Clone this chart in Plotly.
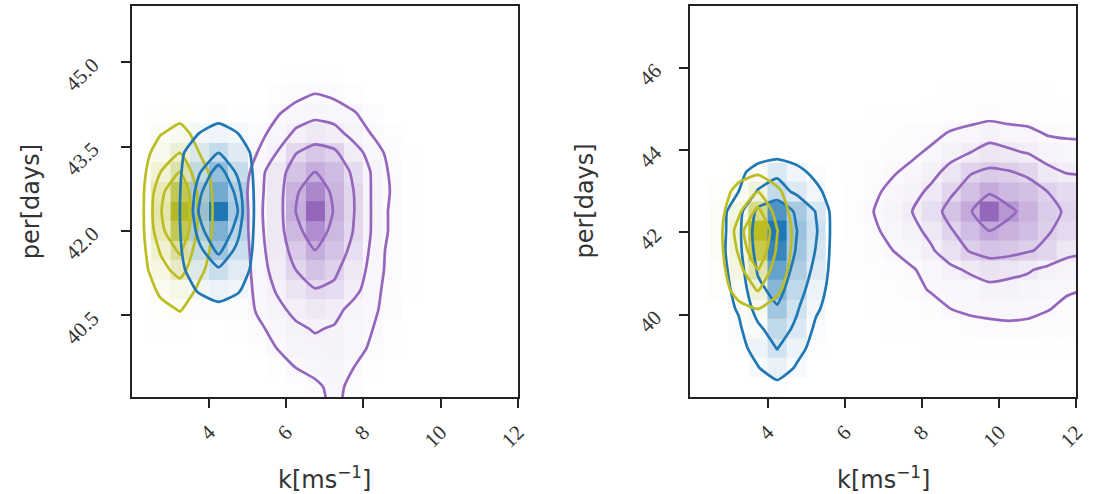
import plotly.graph_objects as go

# ---------------- data (2D histogram bin values) ----------------
# Left panel
K_LY = [2.25, 2.75, 3.25, 3.75, 4.25]
PER_LY = [44.44, 44.09, 43.74, 43.39, 43.05, 42.70, 42.35, 42.00, 41.66, 41.31, 40.96, 40.61, 40.27, 39.92]
Z_LY = [
    [0, 0, 0, 0, 0],
    [0, .03, .05, .02, 0],
    [0, .09, .15, .05, 0],
    [.01, .20, .35, .10, 0],
    [.02, .35, .60, .18, .01],
    [.03, .52, .90, .27, .01],
    [.03, .58, 1.0, .30, .01],
    [.03, .52, .90, .27, .01],
    [.02, .38, .65, .20, .01],
    [.01, .26, .45, .14, 0],
    [.01, .13, .22, .07, 0],
    [0, .06, .11, .03, 0],
    [0, .02, .03, .01, 0],
    [0, 0, 0, 0, 0],
]
LEV_LY = [0.1, 0.35, 0.6]

K_LB = [2.75, 3.25, 3.75, 4.25, 4.75, 5.25]
PER_LB = [44.44, 44.09, 43.74, 43.39, 43.05, 42.70, 42.35, 42.00, 41.66, 41.31, 40.96, 40.61, 40.27]
Z_LB = [
    [0, 0, 0, 0, 0, 0],
    [0, 0, .02, .04, .02, 0],
    [0, .02, .10, .16, .10, 0],
    [0, .05, .28, .45, .27, 0],
    [0, .07, .43, .69, .41, 0],
    [0, .09, .56, .82, .54, 0],
    [0, .10, .62, 1.0, .60, 0],
    [0, .09, .53, .80, .51, 0],
    [0, .07, .40, .65, .39, 0],
    [0, .04, .26, .42, .25, 0],
    [0, .02, .12, .20, .12, 0],
    [0, 0, .02, .04, .02, 0],
    [0, 0, 0, 0, 0, 0],
]
LEV_LB = [0.1, 0.45, 0.6]

K_LP = [4.25, 4.75, 5.25, 5.75, 6.25, 6.75, 7.25, 7.75, 8.25, 8.75, 9.25, 9.75]
PER_LP = [45.13, 44.78, 44.44, 44.09, 43.74, 43.39, 43.05, 42.70, 42.35, 42.00, 41.66,
          41.31, 40.96, 40.61, 40.27, 39.92, 39.57, 39.22, 38.88]
Z_LP = [
    [0, 0, 0, 0, 0, 0, 0, 0, 0, 0, 0, 0],
    [0, 0, 0, 0, .02, .04, .02, 0, 0, 0, 0, 0],
    [0, 0, 0, .03, .07, .10, .08, .04, 0, 0, 0, 0],
    [0, 0, .04, .09, .14, .16, .15, .11, .05, 0, 0, 0],
    [0, .02, .07, .13, .22, .28, .24, .16, .09, .03, 0, 0],
    [0, .03, .10, .20, .44, .58, .50, .25, .15, .06, .01, 0],
    [0, .05, .13, .30, .60, .75, .65, .40, .17, .08, .02, 0],
    [0, .05, .15, .30, .72, .90, .70, .45, .17, .09, .02, 0],
    [0, .03, .16, .30, .75, 1.0, .73, .46, .17, .08, .02, 0],
    [0, .04, .15, .30, .68, .88, .68, .44, .17, .08, .02, 0],
    [0, .04, .14, .28, .56, .75, .60, .38, .15, .07, .01, 0],
    [0, .04, .13, .25, .45, .60, .50, .30, .14, .07, .01, 0],
    [0, .04, .12, .21, .33, .44, .40, .24, .13, .06, .01, 0],
    [0, .03, .11, .17, .23, .30, .24, .16, .12, .05, 0, 0],
    [0, .01, .08, .13, .18, .21, .19, .15, .10, .03, 0, 0],
    [0, 0, .03, .10, .16, .17, .18, .14, .08, .02, 0, 0],
    [0, 0, 0, .04, .10, .14, .16, .10, .03, 0, 0, 0],
    [0, 0, 0, 0, .04, .07, .14, .06, 0, 0, 0, 0],
    [0, 0, 0, 0, .02, .05, .13, .05, 0, 0, 0, 0],
]
LEV_LP = [0.1, 0.2, 0.45, 0.75]

# Right panel
K_RY = [2.25, 2.75, 3.25, 3.75, 4.25, 4.75, 5.25]
PER_RY = [43.94, 43.46, 42.99, 42.51, 42.04, 41.56, 41.09, 40.61, 40.14, 39.66, 39.19]
Z_RY = [  # smoothed density (contours)
    [0, 0, 0, 0, 0, 0, 0],
    [0, 0, .03, .06, .02, 0, 0],
    [0, .01, .16, .35, .13, 0, 0],
    [0, .02, .30, .67, .24, 0, 0],
    [0, .03, .45, 1.0, .36, .01, 0],
    [0, .03, .38, .85, .31, .01, 0],
    [0, .02, .27, .60, .22, 0, 0],
    [0, .01, .17, .37, .13, 0, 0],
    [0, 0, .05, .10, .04, 0, 0],
    [0, 0, .01, .02, .01, 0, 0],
    [0, 0, 0, 0, 0, 0, 0],
]
HIST_RY = [  # histogram counts (shaded bins), same bins
    [0, 0, 0, 0, 0, 0, 0],
    [0, 0, .03, .05, 0, 0, 0],
    [0, .02, .12, .30, 0, 0, 0],
    [0, .04, .25, .75, 0, 0, 0],
    [0, .05, .30, 1.0, 0, 0, 0],
    [0, .05, .30, .90, 0, 0, 0],
    [0, .03, .25, .60, 0, 0, 0],
    [0, .02, .12, .30, 0, 0, 0],
    [0, 0, .05, .10, 0, 0, 0],
    [0, 0, 0, .02, 0, 0, 0],
    [0, 0, 0, 0, 0, 0, 0],
]
LEV_RY = [0.1, 0.35, 0.6]

K_RB = [2.75, 3.25, 3.75, 4.25, 4.75, 5.25, 5.75, 6.25]
PER_RB = [43.94, 43.46, 42.99, 42.51, 42.04, 41.56, 41.09, 40.61, 40.14, 39.66,
          39.19, 38.71, 38.24, 37.76]
Z_RB = [
    [0, 0, 0, 0, 0, 0, 0, 0],
    [0, .05, .18, .30, .16, .05, 0, 0],
    [0, .10, .37, .46, .30, .15, 0, 0],
    [0, .25, .72, .90, .60, .34, 0, 0],
    [0, .28, .80, 1.0, .66, .38, 0, 0],
    [.02, .27, .76, .95, .63, .34, 0, 0],
    [.01, .22, .68, .85, .56, .28, 0, 0],
    [0, .17, .58, .75, .48, .20, 0, 0],
    [0, .12, .45, .62, .38, .13, 0, 0],
    [0, .06, .30, .48, .30, .06, 0, 0],
    [0, .03, .18, .36, .17, .03, 0, 0],
    [0, 0, .09, .22, .08, 0, 0, 0],
    [0, 0, 0, .03, 0, 0, 0, 0],
    [0, 0, 0, 0, 0, 0, 0, 0],
]
LEV_RB = [0.1, 0.35, 0.65]

K_RP = [6.25, 6.75, 7.25, 7.75, 8.25, 8.75, 9.25, 9.75, 10.25, 10.75, 11.25, 11.75, 12.25, 12.75]
PER_RP = [45.84, 45.36, 44.89, 44.41, 43.94, 43.46, 42.99, 42.51, 42.04, 41.56,
          41.09, 40.61, 40.14, 39.66, 39.19]
Z_RP = [
    [0, 0, 0, 0, 0, 0, 0, 0, 0, 0, 0, 0, 0, 0],
    [0, 0, 0, 0, 0, .01, .01, .01, .01, .01, .01, 0, 0, 0],
    [0, .01, .01, .01, .02, .03, .04, .05, .04, .04, .03, .02, .02, .02],
    [.01, .02, .03, .05, .07, .11, .14, .18, .15, .13, .09, .08, .08, .08],
    [.01, .03, .05, .08, .12, .19, .25, .32, .28, .24, .17, .15, .14, .13],
    [.02, .05, .09, .13, .20, .31, .48, .55, .52, .45, .30, .24, .23, .22],
    [.03, .08, .13, .19, .29, .46, .62, .77, .68, .62, .50, .42, .35, .32],
    [.04, .10, .17, .25, .38, .60, .78, 1.0, .85, .72, .55, .48, .45, .42],
    [.03, .08, .14, .20, .30, .48, .64, .80, .72, .64, .52, .43, .36, .34],
    [.02, .06, .10, .15, .23, .36, .52, .60, .58, .52, .45, .30, .27, .25],
    [.01, .03, .05, .09, .14, .21, .28, .35, .31, .27, .20, .17, .16, .15],
    [0, .02, .04, .07, .11, .12, .15, .19, .18, .16, .13, .11, .10, .10],
    [0, .01, .02, .04, .06, .10, .12, .13, .13, .12, .105, .08, .07, .07],
    [0, 0, .01, .02, .03, .04, .06, .07, .08, .08, .06, .05, .04, .04],
    [0, 0, 0, 0, .01, .01, .02, .02, .02, .02, .02, .01, .01, .01],
]
LEV_RP = [0.1, 0.25, 0.5, 0.8]

X_TICKS = [4, 6, 8, 10, 12]
X_TICKTEXT = ["4", "6", "8", "10", "12"]
Y_TICKS_L = [40.5, 42.0, 43.5, 45.0]
Y_TICKTEXT_L = ["40.5", "42.0", "43.5", "45.0"]
Y_TICKS_R = [40, 42, 44, 46]
Y_TICKTEXT_R = ["40", "42", "44", "46"]

# ---------------- styling ----------------
YEL = (188, 189, 34)
BLU = (31, 119, 180)
PUR = (148, 103, 189)


def cscale(rgb):
    r, g, b = rgb
    return [[0.0, f"rgba({r},{g},{b},0)"],
            [0.2, f"rgba({r},{g},{b},0.09)"],
            [0.5, f"rgba({r},{g},{b},0.30)"],
            [0.8, f"rgba({r},{g},{b},0.58)"],
            [1.0, f"rgba({r},{g},{b},1)"]]


def cscale_opaque(rgb):
    # covers what lies beneath wherever the histogram has counts
    r, g, b = rgb

    def mix(t, a):
        return f"rgba({round(255 + (r - 255) * t)},{round(255 + (g - 255) * t)},{round(255 + (b - 255) * t)},{a})"
    return [[0.0, "rgba(255,255,255,0)"], [0.005, mix(0.02, 0.85)],
            [0.5, mix(0.28, 0.95)], [0.8, mix(0.62, 1)], [1.0, mix(1, 1)]]


fig = go.Figure()

# (k, per, contour z, heatmap z, levels, colour, opaque heatmap?, axes)
pops = [
    (K_LP, PER_LP, Z_LP, Z_LP, LEV_LP, PUR, False, "x", "y"),
    (K_LY, PER_LY, Z_LY, Z_LY, LEV_LY, YEL, False, "x", "y"),
    (K_LB, PER_LB, Z_LB, Z_LB, LEV_LB, BLU, False, "x", "y"),
    (K_RP, PER_RP, Z_RP, Z_RP, LEV_RP, PUR, False, "x2", "y2"),
    (K_RB, PER_RB, Z_RB, Z_RB, LEV_RB, BLU, False, "x2", "y2"),
    (K_RY, PER_RY, Z_RY, HIST_RY, LEV_RY, YEL, True, "x2", "y2"),
]

for k, per, zc, zh, lev, col, opq, xa, ya in pops:
    fig.add_trace(go.Heatmap(x=k, y=per[::-1], z=zh[::-1],
                             colorscale=cscale_opaque(col) if opq else cscale(col),
                             zmin=0, zmax=1, showscale=False, hoverinfo="skip",
                             zsmooth=False, xaxis=xa, yaxis=ya))
for k, per, zc, zh, lev, col, opq, xa, ya in pops:
    r, g, b = col
    for L in lev:
        fig.add_trace(go.Contour(x=k, y=per[::-1], z=zc[::-1], autocontour=False,
                                 contours=dict(start=L, end=L, size=1, coloring="none"),
                                 line=dict(color=f"rgb({r},{g},{b})", width=2.7, smoothing=0.5),
                                 showscale=False, hoverinfo="skip", xaxis=xa, yaxis=ya))

W, H = 1094, 494
tickfont = dict(family="Liberation Serif", size=21, color="#333")
common = dict(showgrid=False, zeroline=False, showline=True, mirror=True,
              linecolor="#222", linewidth=1.6, ticks="outside", ticklen=9,
              tickwidth=1.5, tickcolor="#222", tickangle=-45, tickfont=tickfont)

ydom = [(H - 397) / H, (H - 6) / H]
xdom1 = [133 / W, 523 / W]
xdom2 = [697.3 / W, 1087.3 / W]

fig.update_layout(
    width=W, height=H, margin=dict(l=0, r=0, t=0, b=0),
    plot_bgcolor="white", paper_bgcolor="white", showlegend=False,
    xaxis=dict(domain=xdom1, range=[2, 12], tickvals=X_TICKS, ticktext=X_TICKTEXT,
               anchor="y", ticklabelstandoff=4, **common),
    yaxis=dict(domain=ydom, range=[39.05, 46.0], tickvals=Y_TICKS_L, ticktext=Y_TICKTEXT_L,
               anchor="x", ticklabelstandoff=24, **common),
    xaxis2=dict(domain=xdom2, range=[2, 12], tickvals=X_TICKS, ticktext=X_TICKTEXT,
                anchor="y2", ticklabelstandoff=4, **common),
    yaxis2=dict(domain=ydom, range=[38.0, 47.5], tickvals=Y_TICKS_R, ticktext=Y_TICKTEXT_R,
                anchor="x2", ticklabelstandoff=20, **common),
)

title_font = dict(family="DejaVu Sans", size=24, color="#333")
ymid = (ydom[0] + ydom[1]) / 2
for xc in (31 / W, 590 / W):
    fig.add_annotation(text="per[days]", xref="paper", yref="paper", x=xc, y=ymid,
                       textangle=-90, showarrow=False, font=title_font,
                       xanchor="center", yanchor="middle")
for xd in (xdom1, xdom2):
    fig.add_annotation(text="k[ms<sup>\u22121</sup>]", xref="paper", yref="paper",
                       x=(xd[0] + xd[1]) / 2, y=(H - 478) / H, showarrow=False,
                       font=title_font, xanchor="center", yanchor="middle")

fig.write_html("out.html")
